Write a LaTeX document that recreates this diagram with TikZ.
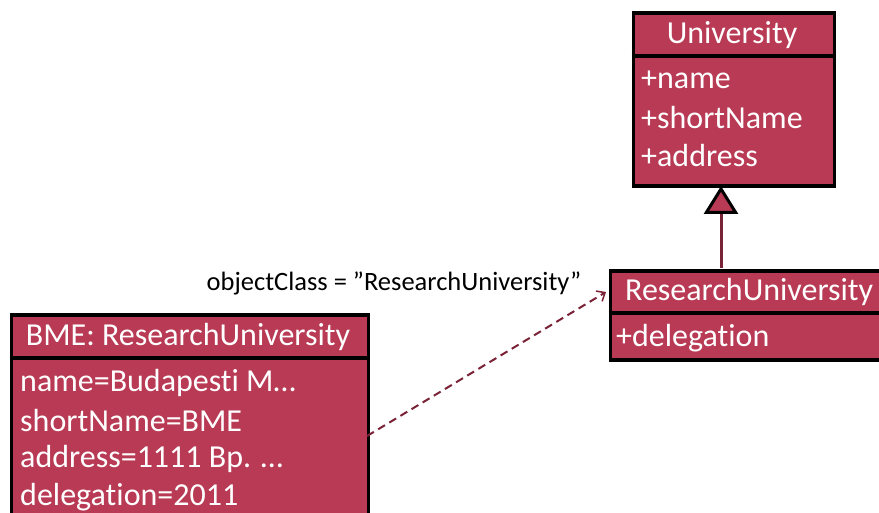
\documentclass[tikz,border=0pt]{standalone}
\usepackage{fontspec}
\setmainfont{Carlito}[Ligatures={NoCommon}]
\usetikzlibrary{arrows.meta}
\definecolor{boxred}{HTML}{B83A54}
\definecolor{linered}{HTML}{7A2236}
\tikzset{
  umlbox/.style={draw=black, fill=boxred, line width=3.2pt, rectangle, inner sep=0pt, anchor=north west},
  divider/.style={draw=black, line width=3.2pt},
  boxtext/.style={text=white, font=\fontsize{32}{36}\selectfont, inner sep=0pt},
  attr/.style={boxtext, anchor=west},
  lbl/.style={text=black, font=\fontsize{26.5}{30}\selectfont, inner sep=0pt},
  inherit/.style={draw=linered, line width=3pt, -{Triangle[length=28pt, width=34pt, fill=boxred, color=black, line width=3pt]}},
  instof/.style={draw=linered, line width=2pt, dash pattern=on 8pt off 5pt, -{Straight Barb[length=7pt, width=12pt, line width=1.5pt, color=linered]}},
}
\begin{document}
\begin{tikzpicture}[x=1pt, y=-1pt]
\useasboundingbox (0,0) rectangle (879,513);
% University class
\node[umlbox, minimum width=201pt, minimum height=173pt] (univ) at (631.5,11.5) {};
\draw[divider] (631.5,56) -- (832.5,56);
\node[boxtext] (univT) at (732,35) {University};
\node[attr] (uA1) at (641,80) {+name};
\node[attr] (uA2) at (641,118) {+shortName};
\node[attr] (uA3) at (641,156) {+address};
% ResearchUniversity class
\node[umlbox, minimum width=300pt, minimum height=89pt] (ru) at (608.5,269.5) {};
\draw[divider] (608.5,313) -- (900,313);
\node[boxtext, anchor=west] (ruT) at (625,292) {ResearchUniversity};
\node[attr] (ruA1) at (616,338) {+delegation};
% BME object
\node[umlbox, minimum width=357pt, minimum height=220pt] (bme) at (9.5,313.5) {};
\draw[divider] (9.5,358) -- (366.5,358);
\node[boxtext] (bmeT) at (188,337) {BME: ResearchUniversity};
\node[attr] (b1) at (20,383) {name=Budapesti M\ldots};
\node[attr] (b2) at (20,421) {shortName=BME};
\node[attr] (b3) at (20,459) {address=1111 Bp. \ldots};
\node[attr] (b4) at (20,497) {delegation=2011};
% connectors
\coordinate (ruTop) at (721,268);
\coordinate (uBot) at (721,186);
\draw[inherit] (ruTop) -- (uBot);
\coordinate (bmeOut) at (367,436);
\coordinate (ruIn) at (606,292);
\draw[instof] (bmeOut) -- (ruIn);
\node[lbl] (oc) at (394,283) {objectClass = ”ResearchUniversity”};
\end{tikzpicture}
\end{document}
